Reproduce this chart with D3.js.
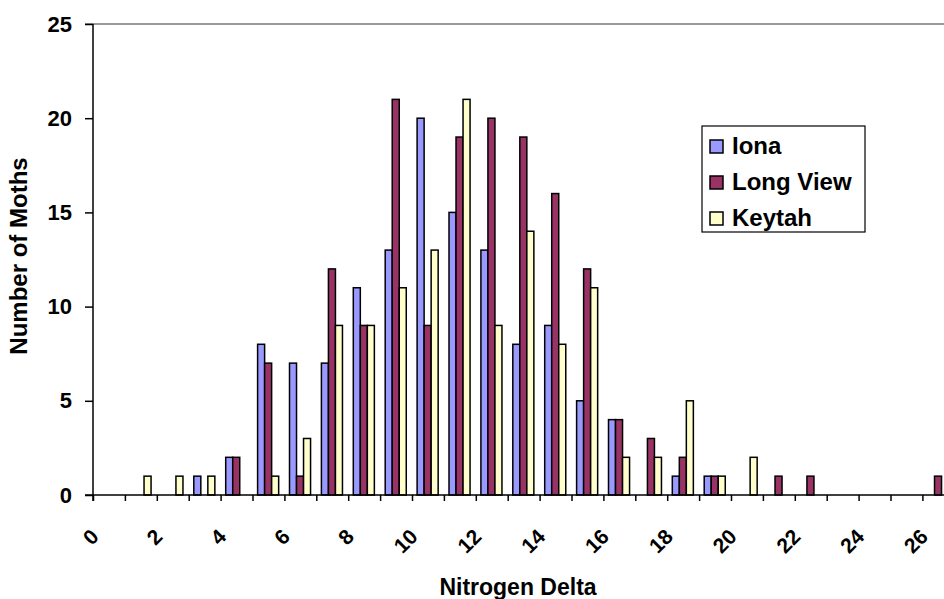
<!DOCTYPE html>
<html>
<head>
<meta charset="utf-8">
<script src="https://cdn.jsdelivr.net/npm/d3@7"></script>
<style>
  html, body { margin: 0; padding: 0; background: #fff; }
  svg { display: block; font-family: Arial, "Liberation Sans", sans-serif; font-weight: bold; }
</style>
</head>
<body>
<svg id="chart" width="944" height="599"></svg>
<script>
// Nitrogen delta bins (0..26) and moth counts per site
const categories = d3.range(0, 27);
const seriesNames = ["Iona", "Long View", "Keytah"];
const iona     = [0,0,0,1,2,8,7,7,11,13,20,15,13,8,9,5,4,0,1,1,0,0,0,0,0,0,0];
const longView = [0,0,0,0,2,7,1,12,9,21,9,19,20,19,16,12,4,3,2,1,0,1,1,0,0,0,1];
const keytah   = [0,1,1,1,0,1,3,9,9,11,13,21,9,14,8,11,2,2,5,1,2,0,0,0,0,0,0];
const yTicks = [0, 5, 10, 15, 20, 25];
const xTickLabels = d3.range(0, 27, 2);
const colors = ["#9999FF", "#993366", "#FFFFCC"];

const seriesValues = [iona, longView, keytah];

const svg = d3.select("#chart");
const plotLeft = 93, plotTop = 24, plotBottom = 495;
const step = 31.9;
const plotRight = plotLeft + step * categories.length;

const x = d3.scaleBand().domain(categories).range([plotLeft, plotRight]).padding(0);
const xInner = d3.scaleBand().domain(seriesNames)
  .range([x.bandwidth() * 0.16, x.bandwidth() * 0.82]).padding(0);
const y = d3.scaleLinear().domain([0, 25]).range([plotBottom, plotTop]);

// top border line of plot area
svg.append("line")
  .attr("x1", plotLeft - 8).attr("x2", 944)
  .attr("y1", y(25)).attr("y2", y(25))
  .attr("stroke", "#999").attr("stroke-width", 2);

// bars
const groups = svg.append("g");
seriesNames.forEach((name, si) => {
  groups.append("g")
    .selectAll("rect")
    .data(categories.map((c, i) => ({ c, v: seriesValues[si][i] })).filter(d => d.v > 0))
    .join("rect")
    .attr("x", d => x(d.c) + xInner(name))
    .attr("y", d => y(d.v))
    .attr("width", xInner.bandwidth())
    .attr("height", d => plotBottom - y(d.v))
    .attr("fill", colors[si])
    .attr("stroke", "#000")
    .attr("stroke-width", 1.5);
});

// y axis
const yAxis = d3.axisLeft(y).tickValues(yTicks).tickSize(8).tickPadding(13);
const gy = svg.append("g").attr("transform", `translate(${plotLeft},0)`).call(yAxis);
gy.select(".domain").attr("stroke", "#000").attr("stroke-width", 1.5)
  .attr("d", `M0,${y(25)}V${plotBottom + 6}`);
gy.selectAll(".tick line").attr("stroke", "#000").attr("stroke-width", 1.5);
gy.selectAll(".tick text").attr("font-size", 22).attr("font-weight", "bold")
  .attr("font-family", "Arial, 'Liberation Sans', sans-serif").attr("fill", "#000");

// x axis: ticks on category boundaries
const boundaries = d3.range(0, 28);
const xb = d3.scaleLinear().domain([0, 27]).range([plotLeft, plotRight]);
const xAxis = d3.axisBottom(xb).tickValues(boundaries).tickSize(6).tickFormat("");
const gx = svg.append("g").attr("transform", `translate(0,${plotBottom})`).call(xAxis);
gx.select(".domain").attr("stroke", "#000").attr("stroke-width", 1.5)
  .attr("d", `M${plotLeft - 8},0H${plotRight}`);
gx.selectAll(".tick line").attr("stroke", "#000").attr("stroke-width", 1.5);

// x tick labels, rotated
svg.append("g").selectAll("text")
  .data(xTickLabels)
  .join("text")
  .attr("transform", d => `translate(${x(d) + x.bandwidth() / 2 - 9},538) rotate(-45)`)
  .attr("text-anchor", "end")
  .attr("font-size", 21)
  .text(d => d);

// axis titles
svg.append("text")
  .attr("x", 518).attr("y", 595)
  .attr("text-anchor", "middle")
  .attr("font-size", 23)
  .text("Nitrogen Delta");

svg.append("text")
  .attr("transform", "translate(27,256) rotate(-90)")
  .attr("text-anchor", "middle")
  .attr("font-size", 24)
  .text("Number of Moths");

// legend
const legend = svg.append("g");
legend.append("rect")
  .attr("x", 702).attr("y", 126).attr("width", 163).attr("height", 106)
  .attr("fill", "#fff").attr("stroke", "#000").attr("stroke-width", 1.2);
const rows = [154, 190, 226];
seriesNames.forEach((name, i) => {
  legend.append("rect")
    .attr("x", 710).attr("y", rows[i] - 14).attr("width", 13).attr("height", 13)
    .attr("fill", colors[i]).attr("stroke", "#000").attr("stroke-width", 1.5);
  legend.append("text")
    .attr("x", 732).attr("y", rows[i])
    .attr("font-size", 24)
    .text(name);
});
</script>
</body>
</html>
